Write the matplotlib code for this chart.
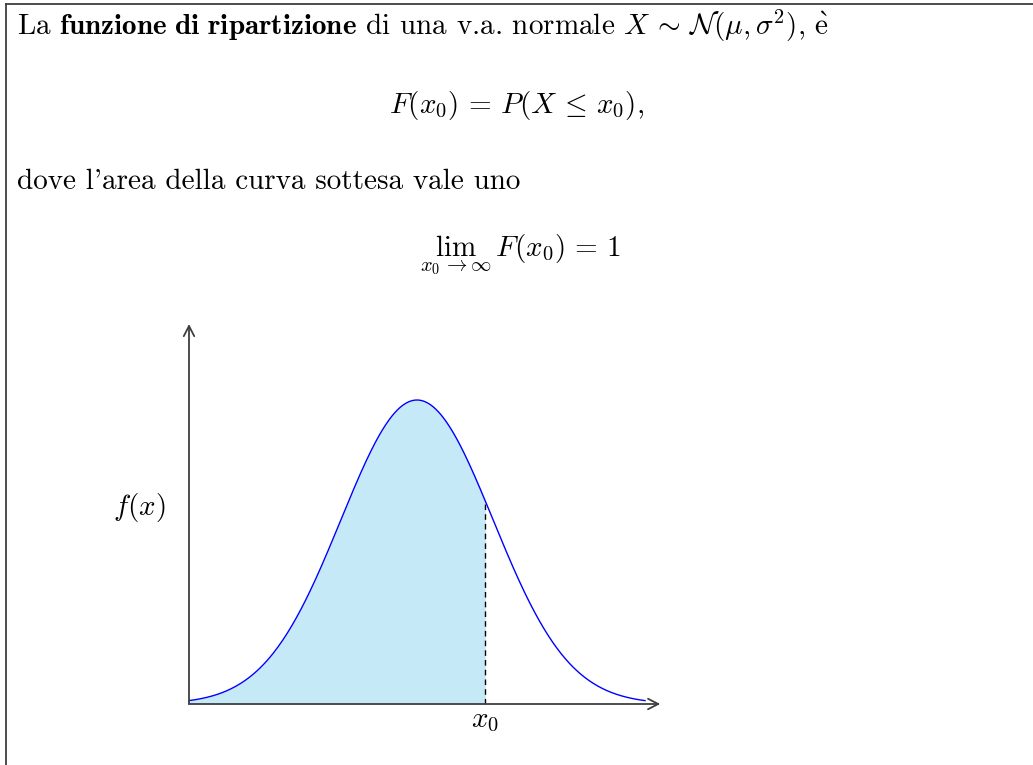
import numpy as np
import matplotlib

matplotlib.use("Agg")
import matplotlib.pyplot as plt

plt.rcParams.update({
    "font.family": ["cmr10", "DejaVu Serif"],
    "mathtext.fontset": "cm",
    "font.size": 21,
    "figure.facecolor": "white",
    "axes.formatter.use_mathtext": True,
})

W, H = 1033, 765          # canvas in pixels
ORIGIN = (189, 704)       # axis origin, pixels from top-left
UNIT = 76                 # pixels per data unit

# normal density drawn on [0, 6]
mu, sigma, peak = 3.0, 1.0, 4.0
x_lo, x_hi = 0.0, 6.0
x0 = 3.9
x_axis_end, y_axis_end = 6.2, 5.0

LINE = "#3f3f3f"
FILL = "#c6e9f7"
CURVE = "#0000ff"

fig = plt.figure(figsize=(W / 100, H / 100), dpi=100)
ax = fig.add_axes([0, 0, 1, 1])
ax.set_xlim(-ORIGIN[0] / UNIT, (W - ORIGIN[0]) / UNIT)
ax.set_ylim(-(H - ORIGIN[1]) / UNIT, ORIGIN[1] / UNIT)
ax.axis("off")


def f(x):
    return peak * np.exp(-0.5 * ((x - mu) / sigma) ** 2)


xs = np.linspace(x_lo, x_hi, 400)
xf = np.linspace(x_lo, x0, 300)
ax.fill_between(xf, 0, f(xf), color=FILL, lw=0, zorder=1)
ax.plot(xs, f(xs), color=CURVE, lw=1.0, zorder=3)
ax.plot([x0, x0], [0, f(x0)], color="black", lw=1.0, ls=(0, (4, 3)), zorder=2)

# axes with thin tikz-like arrow heads
arrow = dict(arrowstyle="->,head_length=0.35,head_width=0.18", lw=1.3,
             color=LINE, shrinkA=0, shrinkB=0)
ax.annotate("", xy=(x_axis_end, 0), xytext=(0, 0), arrowprops=arrow, zorder=4)
ax.annotate("", xy=(0, y_axis_end), xytext=(0, 0), arrowprops=arrow, zorder=4)

# partial frame around the box
fig.add_artist(plt.Line2D([6 / W, 6 / W], [0, 1 - 4 / H], color=LINE, lw=1.3,
                          transform=fig.transFigure))
fig.add_artist(plt.Line2D([6 / W, 1], [1 - 4 / H, 1 - 4 / H], color=LINE, lw=1.3,
                          transform=fig.transFigure))


def put(px, py, s, **kw):
    fig.text(px / W, 1 - py / H, s, **kw)


put(17, 35, r"La $\mathbf{funzione\ di\ ripartizione}$ di una v.a. normale "
            r"$X \,\sim\, \mathcal{N}(\mu, \sigma^2)$, $\grave{\mathrm{e}}$",
    va="baseline")
put(517, 113, r"$F(x_0) \,=\, P(X \,\leq\, x_0),$", ha="center", va="baseline")
put(17, 189, "dove l'area della curva sottesa vale uno", va="baseline")
put(521, 256, r"$\lim_{x_0 \to \infty}\, F(x_0) \,=\, 1$", ha="center",
    va="baseline")
put(139, 508, r"$f(x)$", ha="center", va="center")
put(485, 727, r"$x_0$", ha="center", va="baseline")

fig.savefig("out.png", dpi=100)
